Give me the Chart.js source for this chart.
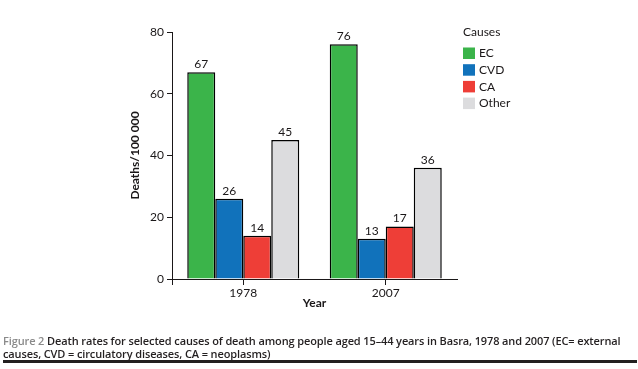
<!DOCTYPE html>
<html>
<head>
<meta charset="utf-8">
<script src="https://cdn.jsdelivr.net/npm/chart.js@4"></script>
<style>
  html, body { margin: 0; padding: 0; background: #fff; }
  #wrap { position: relative; width: 638px; height: 369px; overflow: hidden; }
  canvas { position: absolute; left: 0; top: 0; }
  #caption { position: absolute; left: 3px; top: 334px; width: 636px; font-family: "Open Sans", sans-serif; font-size: 11px; line-height: 13px; color: #231f20; font-weight: 600; letter-spacing: -0.12px; white-space: nowrap; }
  #caption .fig { color: #8a8a8a; }
  #rule { position: absolute; left: 3px; top: 360px; width: 634px; height: 3px; background: #231f20; }
</style>
</head>
<body>
<div id="wrap">
  <canvas id="c" width="638" height="369"></canvas>
  <div id="caption"><span class="fig">Figure 2</span> Death rates for selected causes of death among people aged 15–44 years in Basra, 1978 and 2007 (EC= external<br>causes, CVD = circulatory diseases, CA = neoplasms)</div>
  <div id="rule"></div>
</div>
<script>
const categories = ["1978", "2007"];
const seriesNames = ["EC", "CVD", "CA", "Other"];
const ecValues = [67, 76];
const cvdValues = [26, 13];
const caValues = [14, 17];
const otherValues = [45, 36];
const seriesColors = ["#3bb44a", "#1172bb", "#ee3e37", "#dcdcde"];
const yTicks = [0, 20, 40, 60, 80];

const seriesValues = [ecValues, cvdValues, caValues, otherValues];
const FONT = "Lato, 'Open Sans', sans-serif";
const INK = "#1a1718";

const valueLabels = {
  id: 'valueLabels',
  afterDatasetsDraw(chart) {
    const ctx = chart.ctx;
    ctx.save();
    ctx.font = "12px " + FONT;
    ctx.fillStyle = INK;
    ctx.textAlign = "center";
    ctx.textBaseline = "bottom";
    chart.data.datasets.forEach((ds, i) => {
      chart.getDatasetMeta(i).data.forEach((bar, j) => {
        ctx.fillText(String(ds.data[j]), bar.x, bar.y - 2);
      });
    });
    ctx.restore();
  }
};

const axisExtension = {
  id: 'axisExtension',
  afterDraw(chart) {
    const ctx = chart.ctx;
    const a = chart.chartArea;
    ctx.save();
    ctx.strokeStyle = INK;
    ctx.lineWidth = 1;
    ctx.beginPath();
    ctx.moveTo(Math.round(a.left) + 0.5, a.bottom);
    ctx.lineTo(Math.round(a.left) + 0.5, a.bottom + 6);
    ctx.stroke();
    ctx.restore();
  }
};

const customLegend = {
  id: 'customLegend',
  afterDraw(chart) {
    const ctx = chart.ctx;
    ctx.save();
    const x = 463;
    ctx.font = "12px " + FONT;
    ctx.fillStyle = INK;
    ctx.textAlign = "left";
    ctx.textBaseline = "middle";
    ctx.fillText("Causes", x, 32);
    chart.data.datasets.forEach((ds, i) => {
      const top = 47.5 + i * 16.7;
      ctx.fillStyle = ds.backgroundColor;
      ctx.fillRect(x, top, 12, 11.5);
      ctx.fillStyle = INK;
      ctx.fillText(ds.label, x + 16, top + 6);
    });
    ctx.restore();
  }
};

new Chart(document.getElementById('c'), {
  type: 'bar',
  data: {
    labels: categories,
    datasets: seriesNames.map((name, i) => ({
      label: name,
      data: seriesValues[i],
      backgroundColor: seriesColors[i],
      borderColor: "#000000",
      borderWidth: 1.5,
      borderSkipped: 'bottom',
      inflateAmount: 0,
      categoryPercentage: 0.786,
      barPercentage: 1.0
    }))
  },
  options: {
    responsive: false,
    animation: false,
    devicePixelRatio: 1,
    layout: { padding: { left: 125, top: 32, right: 181, bottom: 58 } },
    plugins: { legend: { display: false }, tooltip: { enabled: false } },
    scales: {
      x: {
        afterFit(scale) { scale.height = 32; },
        grid: { display: true, drawOnChartArea: false, tickLength: 6, color: INK, offset: false },
        border: { display: true, color: INK, width: 1 },
        ticks: { color: INK, font: { family: FONT, size: 12 }, padding: 1 },
        title: { display: true, text: "Year", color: INK, font: { family: FONT, size: 12, weight: 'bold' }, padding: { top: 0, bottom: 1 } }
      },
      y: {
        min: 0, max: 80,
        afterFit(scale) { scale.width = 47; },
        afterBuildTicks(scale) { scale.ticks = yTicks.map(v => ({ value: v })); },
        grid: { display: true, drawOnChartArea: false, tickLength: 5, color: INK },
        border: { display: true, color: INK, width: 1 },
        ticks: { color: INK, font: { family: FONT, size: 12 }, padding: 3 },
        title: { display: true, text: "Deaths/100 000", color: INK, font: { family: FONT, size: 12, weight: 'bold' }, padding: { top: 3, bottom: 0 } }
      }
    }
  },
  plugins: [valueLabels, axisExtension, customLegend]
});
</script>
</body>
</html>
